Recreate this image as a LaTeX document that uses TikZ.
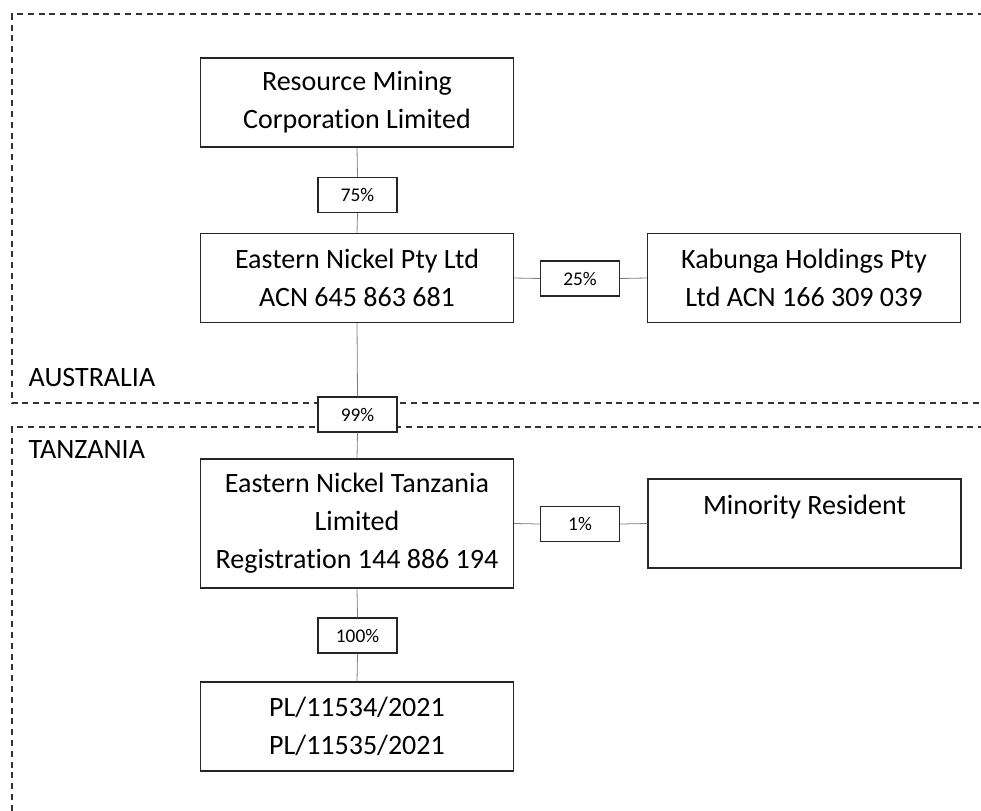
\documentclass[tikz,border=0pt]{standalone}
\usepackage{fontspec}
\setmainfont{Carlito}[Ligatures=NoCommon]
\usepackage{tikz}
\usetikzlibrary{positioning}

\begin{document}
\begin{tikzpicture}[x=0.75pt,y=-0.75pt,
  entity/.style={draw=black!85,line width=1pt,fill=white,align=center,
    minimum width=234.75pt,minimum height=66.75pt,inner sep=2pt,
    font=\fontsize{21}{28.5}\selectfont},
  pct/.style={draw=black!85,line width=0.9pt,fill=white,
    minimum width=59.25pt,minimum height=26.25pt,inner sep=1pt,
    font=\fontsize{14.5}{17}\selectfont},
  link/.style={draw=black!50,line width=0.6pt},
  border/.style={draw=black!80,line width=0.9pt,dash pattern=on 4.5pt off 3.6pt}]
\useasboundingbox (0,0) rectangle (981,810);
\clip (0,0) rectangle (981,810);

% country borders
\draw[border] (995,14) -- (12,14) -- (12,403) -- (995,403);
\draw[border] (995,427) -- (12,427) -- (12,825);
\node[anchor=base west,font=\fontsize{21}{25}\selectfont] (aus) at (24,386) {AUSTRALIA};
\node[anchor=base west,font=\fontsize{21}{25}\selectfont] (tza) at (24,458) {TANZANIA};

% entities
\node[entity] (rmc) at (357,102.5) {Resource Mining\\Corporation Limited};
\node[entity] (enp) at (357,278) {Eastern Nickel Pty Ltd\\ACN 645 863 681};
\node[entity] (kab) at (804,278) {Kabunga Holdings Pty\\Ltd ACN 166 309 039};
\node[entity,minimum height=96.75pt] (ent) at (357,523.5) {Eastern Nickel Tanzania\\Limited\\Registration 144 886 194};
\node[entity] (mnr) at (804.5,523.5) {Minority Resident\\\phantom{X}};
\node[entity] (lic) at (357,726.5) {PL/11534/2021\\PL/11535/2021};

% holdings
\node[pct] (p75) at (357.5,195) {75\%};
\node[pct] (p25) at (580,278.5) {25\%};
\node[pct] (p99) at (357.5,414.5) {99\%};
\node[pct] (p1) at (580,524) {1\%};
\node[pct] (p100) at (357.5,635.5) {100\%};

\draw[link] (rmc.south) -- (p75.north);
\draw[link] (p75.south) -- (enp.north);
\draw[link] (enp.east) -- (p25.west);
\draw[link] (p25.east) -- (kab.west);
\draw[link] (enp.south) -- (p99.north);
\draw[link] (p99.south) -- (ent.north);
\draw[link] (ent.east) -- (p1.west);
\draw[link] (p1.east) -- (mnr.west);
\draw[link] (ent.south) -- (p100.north);
\draw[link] (p100.south) -- (lic.north);
\end{tikzpicture}
\end{document}
